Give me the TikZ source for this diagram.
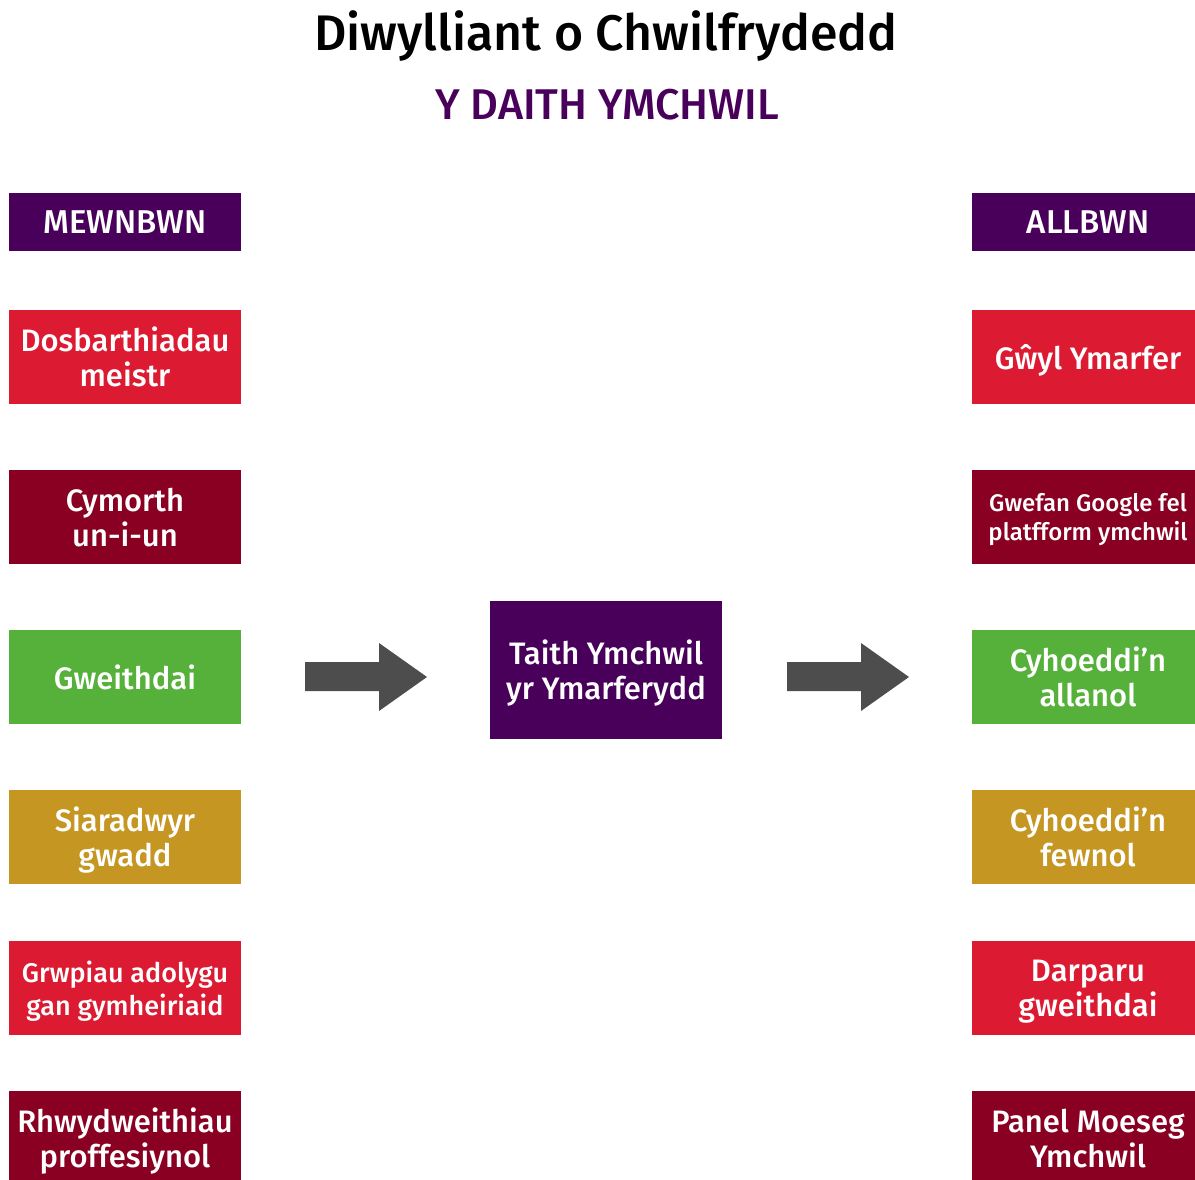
\documentclass[tikz,border=0pt]{standalone}
\usepackage{fontspec}
\setmainfont{Fira Sans Medium}
\definecolor{ymPurple}{HTML}{48005A}
\definecolor{ymRed}{HTML}{DC1A32}
\definecolor{ymDarkRed}{HTML}{8A0022}
\definecolor{ymGreen}{HTML}{55B13A}
\definecolor{ymGold}{HTML}{C59621}
\definecolor{ymGray}{HTML}{4D4D4D}
\tikzset{
  box/.style={rectangle, minimum width=232, minimum height=94, inner sep=0pt,
    text=white, align=center, text depth=0pt, font=\fontsize{31}{35}\selectfont},
  two/.style={text depth=-5pt},
  head/.style={minimum height=58, font=\fontsize{33}{40}\selectfont}
}
\begin{document}
\begin{tikzpicture}[x=1pt, y=-1pt]
    \useasboundingbox (0,0) rectangle (1195,1180);
    \node[inner sep=0pt, font=\fontsize{50}{60}\selectfont] (title) at (606,36) {Diwylliant o Chwilfrydedd};
    \node[inner sep=0pt, text=ymPurple, font=\fontsize{43}{50}\selectfont] (subtitle) at (607,105) {Y DAITH YMCHWIL};
    % mewnbwn
    \node[box, head, fill=ymPurple] (mewnbwn) at (125,222) {MEWNBWN};
    \node[box, two, fill=ymRed] (dosbarth) at (125,357) {Dosbarthiadau\\meistr};
    \node[box, two, fill=ymDarkRed] (cymorth) at (125,517) {Cymorth\\un-i-un};
    \node[box, fill=ymGreen] (gweithdai) at (125,677) {Gweithdai};
    \node[box, two, fill=ymGold] (siaradwyr) at (125,837) {Siaradwyr\\gwadd};
    \node[box, two, fill=ymRed, font=\fontsize{27}{33}\selectfont] (grwpiau) at (125,988) {Grwpiau adolygu\\gan gymheiriaid};
    \node[box, two, fill=ymDarkRed] (rhwyd) at (125,1138) {Rhwydweithiau\\proffesiynol};
    % taith
    \node[box, two, fill=ymPurple, minimum height=138] (taith) at (606,670) {Taith Ymchwil\\yr Ymarferydd};
    % allbwn
    \node[box, head, fill=ymPurple] (allbwn) at (1088,222) {ALLBWN};
    \node[box, fill=ymRed] (gwyl) at (1088,357) {Gŵyl Ymarfer};
    \node[box, two, fill=ymDarkRed, font=\fontsize{24}{29}\selectfont] (gwefan) at (1088,517) {Gwefan Google fel\\platfform ymchwil};
    \node[box, two, fill=ymGreen] (allanol) at (1088,677) {Cyhoeddi’n\\allanol};
    \node[box, two, fill=ymGold] (fewnol) at (1088,837) {Cyhoeddi’n\\fewnol};
    \node[box, two, fill=ymRed] (darparu) at (1088,988) {Darparu\\gweithdai};
    \node[box, two, fill=ymDarkRed] (panel) at (1088,1138) {Panel Moeseg\\Ymchwil};
    % arrows
    \fill[ymGray] (305,662) -- (379,662) -- (379,643) -- (427,677) -- (379,711) -- (379,691) -- (305,691) -- cycle;
    \fill[ymGray] (787,662) -- (861,662) -- (861,643) -- (909,677) -- (861,711) -- (861,691) -- (787,691) -- cycle;
\end{tikzpicture}
\end{document}
